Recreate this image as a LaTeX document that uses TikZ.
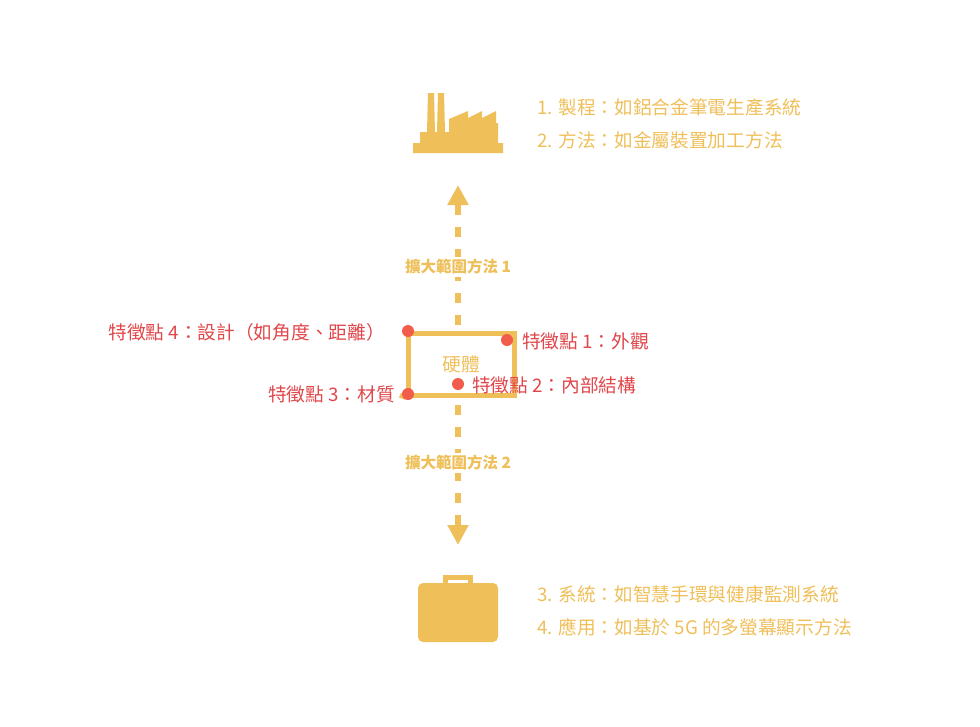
\documentclass[tikz,border=0pt]{standalone}
\usepackage{fontspec}
\setmainfont{Noto Sans CJK TC}
\usetikzlibrary{arrows.meta, positioning}
\definecolor{gold}{HTML}{EFBF5A}
\definecolor{redtxt}{HTML}{E0464A}
\definecolor{reddot}{HTML}{F25C4A}
\begin{document}
\begin{tikzpicture}[
    x=1pt, y=-1pt,
    every node/.style={font=\fontsize{18.7}{22}\selectfont},
    goldtext/.style={text=gold, anchor=west, inner sep=0},
    redlabel/.style={text=redtxt, inner sep=0},
    dot/.style={circle, fill=reddot, minimum size=12pt, inner sep=0},
    extend/.style={gold, line width=6pt, dash pattern=on 10pt off 12pt, -{Triangle[width=20pt,length=20pt]}},
    extlabel/.style={text=gold, fill=white, inner sep=2pt, font=\fontsize{15.5}{18}\selectfont\bfseries}
]
\useasboundingbox (0,0) rectangle (980,726);

% Factory icon
\fill[gold] (413,153) -- (413,143) -- (420,143) -- (420,132) -- (427,132) -- (428,93) -- (434,93) -- (435,132)
  -- (437,132) -- (438,93) -- (444,93) -- (445,132) -- (449,132) -- (449,119) -- (468,111) -- (468,118)
  -- (482,111) -- (482,118) -- (496,111) -- (496,123) -- (498,123) -- (498,143) -- (503,143) -- (503,153) -- cycle;

% Briefcase icon
\fill[gold, rounded corners=5pt] (418,583) rectangle (498,642);
\fill[gold] (443,575) rectangle (473,583);
\fill[white] (448,580) rectangle (468,583);

% Hardware box
\node[draw=gold, line width=5pt, minimum width=106pt, minimum height=62pt, inner sep=0,
      text=gold] (hw) at (461,364) {硬體};
\draw[gold, line width=5pt] (400,395) -- (hw.south west);

% Feature points
\node[dot] (p4) at (408,331) {};
\node[dot] (p1) at (507,340) {};
\node[dot] (p2) at (458,384) {};
\node[dot] (p3) at (408,394) {};
\node[redlabel, anchor=east] (l4) at (385,332) {特徵點 4：設計（如角度、距離）};
\node[redlabel, anchor=west] (l1) at (522,341) {特徵點 1：外觀};
\node[redlabel, anchor=west] (l2) at (472,385) {特徵點 2：內部結構};
\node[redlabel, anchor=east] (l3) at (395,394) {特徵點 3：材質};

% Extension arrows
\coordinate (up) at (458,185);
\coordinate (down) at (458,545);
\draw[extend] (458,325) -- (up);
\draw[extend] (458,405) -- (down);
\node[extlabel] (e1) at (458,267) {擴大範圍方法 1};
\node[extlabel] (e2) at (458,463) {擴大範圍方法 2};

% Descriptions
\node[goldtext] (t1) at (537,107) {1. 製程：如鋁合金筆電生產系統};
\node[goldtext] (t2) at (537,140) {2. 方法：如金屬裝置加工方法};
\node[goldtext] (t3) at (537,594) {3. 系統：如智慧手環與健康監測系統};
\node[goldtext] (t4) at (537,627) {4. 應用：如基於 5G 的多螢幕顯示方法};

\end{tikzpicture}
\end{document}
